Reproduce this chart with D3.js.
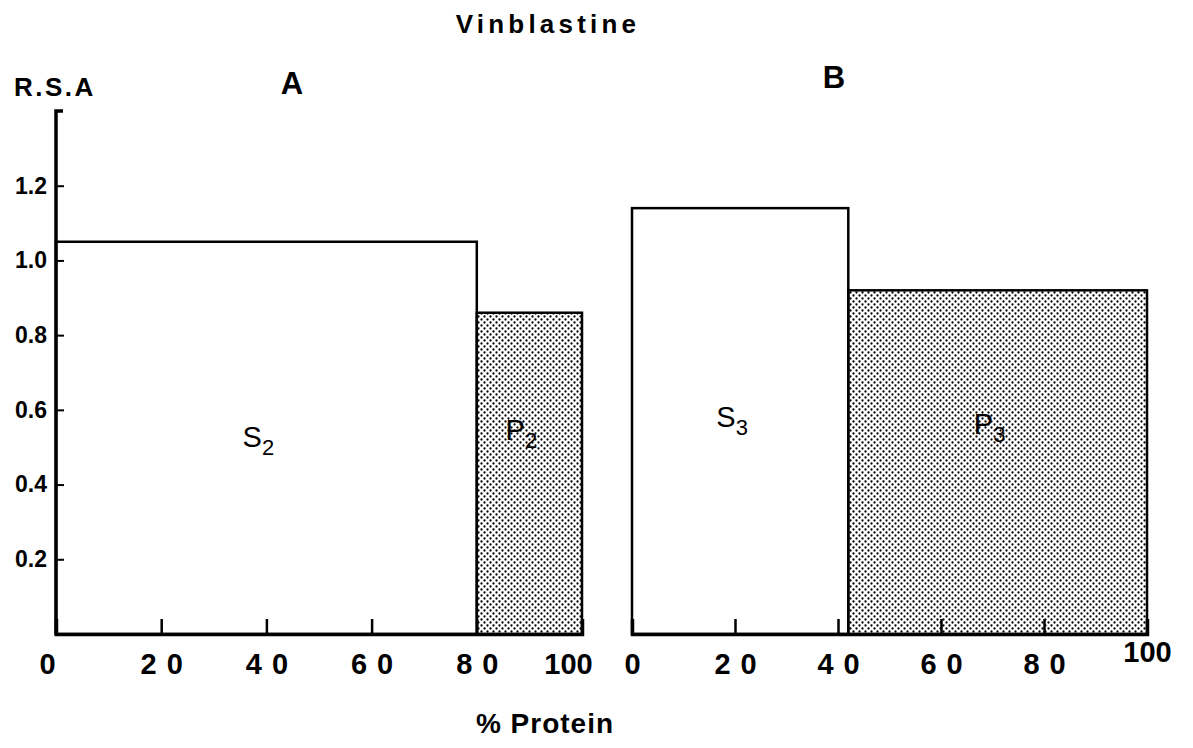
<!DOCTYPE html>
<html><head><meta charset="utf-8">
<script src="https://cdn.jsdelivr.net/npm/d3@7"></script>
<style>
html,body{margin:0;padding:0;background:#fff;}
svg{display:block;font-family:"Liberation Sans",Arial,sans-serif;font-weight:bold;}
</style></head>
<body>
<script>
// ---- data ----
const panels = ["A", "B"];
const fractionsA = [
  {name: "S", sub: "2", start: 0, end: 80, rsa: 1.05, shaded: false},
  {name: "P", sub: "2", start: 80, end: 100, rsa: 0.86, shaded: true}
];
const fractionsB = [
  {name: "S", sub: "3", start: 0, end: 42, rsa: 1.14, shaded: false},
  {name: "P", sub: "3", start: 42, end: 100, rsa: 0.92, shaded: true}
];
const xTickValues = [0, 20, 40, 60, 80, 100];
const yTickValues = [0.2, 0.4, 0.6, 0.8, 1.0, 1.2];
const title = "Vinblastine";
const yLabel = "R.S.A";
const xLabel = "% Protein";

const W = 1193, H = 748;
const svg = d3.select("body").append("svg").attr("width", W).attr("height", H);

const defs = svg.append("defs");
const pat = defs.append("pattern").attr("id", "dots").attr("patternUnits", "userSpaceOnUse")
  .attr("width", 6).attr("height", 6);
pat.append("circle").attr("cx", 1.5).attr("cy", 1.5).attr("r", 1.15).attr("fill", "#000");
pat.append("circle").attr("cx", 4.5).attr("cy", 4.5).attr("r", 1.15).attr("fill", "#000");

const y = d3.scaleLinear().domain([0, 1.4]).range([634, 111]);
const xA = d3.scaleLinear().domain([0, 100]).range([56, 582]);
const xB = d3.scaleLinear().domain([0, 100]).range([632, 1147]);

// title & labels
svg.append("text").attr("x", 548).attr("y", 33).attr("text-anchor", "middle")
  .attr("font-size", 26).attr("letter-spacing", 4.2).text(title);
svg.append("text").attr("x", 14).attr("y", 96).attr("font-size", 26)
  .attr("letter-spacing", 2.5).text(yLabel);
svg.append("text").attr("x", 292).attr("y", 94).attr("text-anchor", "middle")
  .attr("font-size", 31).text(panels[0]);
svg.append("text").attr("x", 834).attr("y", 88).attr("text-anchor", "middle")
  .attr("font-size", 31).text(panels[1]);
svg.append("text").attr("x", 545).attr("y", 733).attr("text-anchor", "middle")
  .attr("font-size", 28).attr("letter-spacing", 1).text(xLabel);

function drawBars(data, x, labelLevels) {
  const g = svg.append("g");
  g.selectAll("rect").data(data).join("rect")
    .attr("x", d => x(d.start)).attr("width", d => x(d.end) - x(d.start))
    .attr("y", d => y(d.rsa)).attr("height", d => y(0) - y(d.rsa))
    .attr("fill", d => d.shaded ? "url(#dots)" : "#fff")
    .attr("stroke", "#000").attr("stroke-width", 2.5);
  const t = g.selectAll("text").data(data).join("text")
    .attr("x", d => x((d.start + d.end) / 2) - 8)
    .attr("y", (d, i) => y(labelLevels[i]))
    .attr("text-anchor", "middle")
    .attr("font-size", 29).attr("font-weight", "normal");
  t.append("tspan").text(d => d.name);
  t.append("tspan").attr("font-size", 22).attr("dy", 8).text(d => d.sub);
}
drawBars(fractionsA, xA, [0.50, 0.52]);
drawBars(fractionsB, xB, [0.555, 0.535]);

// x axes (ticks inside)
function drawX(x) {
  const ax = d3.axisBottom(x).tickValues(xTickValues).tickSize(-15).tickPadding(19)
    .tickFormat(d => d);
  const g = svg.append("g").attr("transform", `translate(0,${y(0)})`).call(ax);
  g.select(".domain").attr("stroke-width", 3.5);
  g.selectAll(".tick line").attr("stroke-width", 2.5);
  g.selectAll(".tick text").attr("font-size", 29).attr("fill", "#000")
    .attr("font-family", "Liberation Sans, Arial, sans-serif")
    .attr("font-weight", "bold")
    .attr("letter-spacing", d => (d > 0 && d < 100) ? 10 : 0)
    .attr("dx", d => (d > 0 && d < 100) ? 5 : 0);
  return g;
}
const gxA = drawX(xA);
gxA.selectAll(".tick text").attr("dx", d => d === 0 ? -9 : d === 100 ? -14 : 5);
const gxB = drawX(xB);
gxB.selectAll(".tick text").attr("dy", d => d === 100 ? "0.3em" : "0.71em");

// y axis
const ay = d3.axisLeft(y).tickValues(yTickValues).tickSize(-8).tickPadding(9)
  .tickFormat(d3.format(".1f"));
const gy = svg.append("g").attr("transform", `translate(${xA(0)},0)`).call(ay);
gy.select(".domain").remove();
gy.append("path").attr("d", `M0,${y(0) + 1.5}V${y(1.4)}H7`).attr("fill", "none")
  .attr("stroke", "#000").attr("stroke-width", 3.5);
gy.selectAll(".tick line").attr("stroke-width", 2);
gy.selectAll(".tick text").attr("font-size", 23).attr("fill", "#000")
  .attr("font-family", "Liberation Sans, Arial, sans-serif").attr("font-weight", "bold");
</script>
</body></html>
